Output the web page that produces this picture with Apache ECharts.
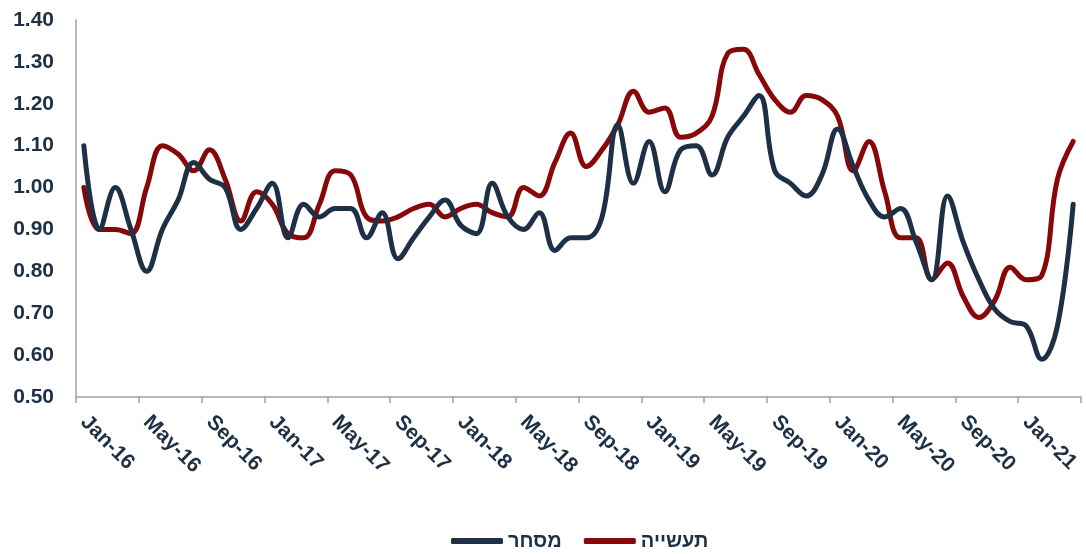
<!DOCTYPE html>
<html>
<head>
<meta charset="utf-8">
<script src="https://cdn.jsdelivr.net/npm/echarts@6/dist/echarts.min.js"></script>
<style>
  html, body { margin: 0; padding: 0; background: #ffffff; }
  #chart { width: 1086px; height: 554px; }
</style>
</head>
<body>
<div id="chart"></div>
<script>
// Monthly ratio, Jan-16 through Apr-21
const months = [
  'Jan-16','Feb-16','Mar-16','Apr-16','May-16','Jun-16','Jul-16','Aug-16','Sep-16','Oct-16','Nov-16','Dec-16',
  'Jan-17','Feb-17','Mar-17','Apr-17','May-17','Jun-17','Jul-17','Aug-17','Sep-17','Oct-17','Nov-17','Dec-17',
  'Jan-18','Feb-18','Mar-18','Apr-18','May-18','Jun-18','Jul-18','Aug-18','Sep-18','Oct-18','Nov-18','Dec-18',
  'Jan-19','Feb-19','Mar-19','Apr-19','May-19','Jun-19','Jul-19','Aug-19','Sep-19','Oct-19','Nov-19','Dec-19',
  'Jan-20','Feb-20','Mar-20','Apr-20','May-20','Jun-20','Jul-20','Aug-20','Sep-20','Oct-20','Nov-20','Dec-20',
  'Jan-21','Feb-21','Mar-21','Apr-21'
];

// מסחר (trade)
const tradeValues = [
  1.10, 0.90, 1.00, 0.90, 0.80, 0.90, 0.97, 1.06, 1.02, 1.00, 0.90, 0.95,
  1.01, 0.88, 0.96, 0.93, 0.95, 0.95, 0.88, 0.94, 0.83, 0.88, 0.93, 0.97,
  0.91, 0.89, 1.01, 0.93, 0.90, 0.94, 0.85, 0.88, 0.88, 0.93, 1.15, 1.01,
  1.11, 0.99, 1.09, 1.10, 1.03, 1.12, 1.17, 1.22, 1.04, 1.01, 0.98, 1.03,
  1.14, 1.05, 0.97, 0.93, 0.95, 0.87, 0.78, 0.98, 0.87, 0.78, 0.71, 0.68,
  0.67, 0.59, 0.67, 0.96
];

// תעשייה (industry)
const industryValues = [
  1.00, 0.90, 0.90, 0.89, 1.00, 1.10, 1.08, 1.04, 1.09, 1.02, 0.92, 0.99,
  0.96, 0.89, 0.88, 0.96, 1.04, 1.03, 0.93, 0.92, 0.93, 0.95, 0.96, 0.93,
  0.95, 0.96, 0.94, 0.93, 1.00, 0.98, 1.06, 1.13, 1.05, 1.09, 1.15, 1.23,
  1.18, 1.19, 1.12, 1.13, 1.17, 1.32, 1.33, 1.27, 1.21, 1.18, 1.22, 1.21,
  1.17, 1.04, 1.11, 0.99, 0.88, 0.88, 0.78, 0.82, 0.74, 0.69, 0.73, 0.81,
  0.78, 0.79, 1.02, 1.11
];

const seriesNames = ['מסחר', 'תעשייה'];
const seriesColors = ['#1d3045', '#870808'];

const textColor = '#1d3045';
const fontFamily = '"Liberation Sans", Arial, sans-serif';

const chart = echarts.init(document.getElementById('chart'), null, { renderer: 'canvas' });

chart.setOption({
  animation: false,
  backgroundColor: '#ffffff',
  grid: { left: 76, right: 5, top: 20, bottom: 157, containLabel: false },
  legend: {
    top: 526,
    left: 446,
    icon: 'roundRect',
    itemWidth: 52,
    itemHeight: 6,
    itemGap: 22,
    textStyle: { color: textColor, fontFamily: fontFamily, fontWeight: 'bold', fontSize: 20 },
    data: seriesNames
  },
  xAxis: {
    type: 'category',
    data: months,
    boundaryGap: true,
    axisLine: { show: true, lineStyle: { color: '#a0a0a0', width: 1.5 } },
    axisTick: { show: true, interval: 3, length: 6, lineStyle: { color: '#a0a0a0', width: 1.5 } },
    axisLabel: {
      interval: 3,
      rotate: -45,
      margin: 22,
      color: textColor,
      fontFamily: fontFamily,
      fontWeight: 'bold',
      fontSize: 21
    },
    splitLine: { show: false }
  },
  yAxis: {
    type: 'value',
    min: 0.5,
    max: 1.4,
    interval: 0.1,
    axisLine: { show: true, lineStyle: { color: '#a0a0a0', width: 1.5 } },
    axisTick: { show: false },
    splitLine: { show: false },
    axisLabel: {
      margin: 22,
      color: textColor,
      fontFamily: fontFamily,
      fontWeight: 'bold',
      fontSize: 21,
      formatter: function (v) { return v.toFixed(2); }
    }
  },
  series: [
    {
      name: seriesNames[0],
      type: 'line',
      data: tradeValues,
      smooth: 0.4,
      symbol: 'none',
      lineStyle: { color: seriesColors[0], width: 5, cap: 'round', join: 'round' },
      itemStyle: { color: seriesColors[0] },
      z: 3
    },
    {
      name: seriesNames[1],
      type: 'line',
      data: industryValues,
      smooth: 0.4,
      symbol: 'none',
      lineStyle: { color: seriesColors[1], width: 5, cap: 'round', join: 'round' },
      itemStyle: { color: seriesColors[1] },
      z: 2
    }
  ]
});
</script>
</body>
</html>
